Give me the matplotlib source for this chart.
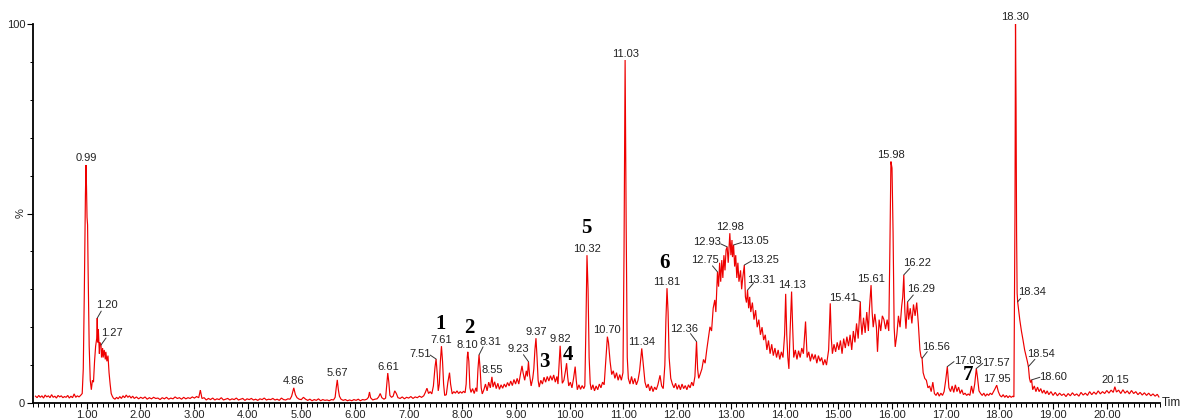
import matplotlib
matplotlib.use("Agg")
import matplotlib.pyplot as plt
from matplotlib.ticker import MultipleLocator, FixedLocator

# ---- chromatogram trace: retention time (min) and relative intensity (%) ----
rt_early = [0.05, 0.08, 0.11, 0.14, 0.17, 0.20, 0.23, 0.26, 0.29, 0.32, 0.35, 0.38, 0.41, 0.44,
            0.47, 0.50, 0.53, 0.56, 0.59, 0.62, 0.65, 0.68, 0.71, 0.74, 0.77, 0.80, 0.83, 0.86,
            0.89, 0.92, 0.94, 0.96, 0.98, 0.99, 1.00, 1.01, 1.02, 1.03, 1.05, 1.07, 1.09, 1.11,
            1.13, 1.15, 1.17, 1.19, 1.20, 1.21, 1.22, 1.24, 1.25, 1.27, 1.28, 1.30, 1.31, 1.33,
            1.35, 1.36, 1.38, 1.40, 1.42, 1.44, 1.46, 1.48, 1.50]
sig_early = [1.8, 1.4, 2.0, 1.5, 1.9, 1.3, 2.1, 1.6, 1.9, 1.4, 2.2, 1.5, 1.8, 1.3,
             2.0, 1.6, 1.9, 1.4, 1.7, 1.5, 2.0, 1.3, 1.8, 1.4, 2.4, 1.5, 1.9, 1.6,
             2.0, 2.5, 9.0, 30.0, 55.0, 62.8, 57.0, 49.0, 47.0, 35.0, 15.0, 6.0, 3.5, 6.0,
             5.5, 11.0, 15.0, 17.0, 22.4, 16.0, 19.5, 13.0, 16.0, 15.3, 12.0, 14.5, 12.0, 14.0,
             11.5, 13.5, 11.0, 12.5, 8.0, 5.0, 2.5, 1.8, 1.3]

rt_flat = [1.53, 1.56, 1.59, 1.62, 1.65, 1.68, 1.71, 1.74, 1.77, 1.80, 1.83, 1.86, 1.89, 1.93,
           1.97, 2.01, 2.05, 2.09, 2.13, 2.17, 2.21, 2.25, 2.29, 2.33, 2.37, 2.41, 2.45, 2.49,
           2.53, 2.57, 2.61, 2.65, 2.69, 2.73, 2.77, 2.81, 2.85, 2.89, 2.93, 2.97, 3.01, 3.05,
           3.09, 3.12, 3.15, 3.19, 3.23, 3.27, 3.31, 3.35, 3.39, 3.43, 3.47, 3.51, 3.55, 3.59,
           3.63, 3.67, 3.71, 3.75, 3.79, 3.83, 3.87, 3.91, 3.95, 3.99, 4.03, 4.07, 4.11, 4.15,
           4.19, 4.23, 4.27, 4.31, 4.35, 4.39, 4.43, 4.47, 4.51, 4.55, 4.59, 4.63, 4.67, 4.71,
           4.75, 4.79, 4.82, 4.86, 4.89, 4.92, 4.96]
sig_flat = [1.0, 1.5, 1.1, 1.7, 1.2, 1.9, 1.4, 2.1, 1.5, 1.9, 1.3, 1.8, 1.2, 1.6,
            1.1, 1.5, 1.2, 1.6, 1.0, 1.4, 1.1, 1.5, 1.2, 1.3, 0.9, 1.4, 1.1, 1.5,
            1.0, 1.3, 1.1, 1.6, 1.2, 1.4, 1.0, 1.5, 1.1, 1.4, 1.2, 1.6, 1.3, 1.7,
            1.4, 3.4, 1.2, 1.4, 0.8, 1.2, 0.9, 1.3, 0.8, 1.1, 0.9, 1.4, 0.8, 1.0,
            1.2, 0.8, 1.1, 0.9, 1.3, 0.8, 1.0, 1.2, 0.7, 1.1, 0.9, 1.2, 0.8, 1.0,
            0.7, 1.1, 0.9, 1.3, 0.8, 1.0, 0.9, 1.2, 0.8, 1.0, 0.7, 1.3, 0.9, 0.8,
            1.1, 1.0, 1.8, 4.0, 2.2, 1.4, 1.0]

rt_mid = [5.00, 5.04, 5.08, 5.12, 5.16, 5.20, 5.24, 5.28, 5.32, 5.36, 5.40, 5.44, 5.48, 5.52,
          5.56, 5.60, 5.63, 5.65, 5.67, 5.69, 5.71, 5.74, 5.78, 5.82, 5.86, 5.90, 5.94, 5.98,
          6.02, 6.06, 6.10, 6.14, 6.18, 6.22, 6.25, 6.27, 6.29, 6.33, 6.37, 6.41, 6.44, 6.47,
          6.50, 6.54, 6.57, 6.59, 6.61, 6.63, 6.65, 6.68, 6.71, 6.74, 6.77, 6.80, 6.84, 6.88,
          6.92, 6.96, 7.00, 7.04, 7.08, 7.12, 7.16, 7.20, 7.24, 7.28, 7.31, 7.34, 7.37, 7.40,
          7.43, 7.46, 7.49, 7.51, 7.53, 7.55, 7.57, 7.59, 7.61, 7.63, 7.65, 7.67, 7.70, 7.73,
          7.76, 7.78, 7.81, 7.84, 7.87, 7.90, 7.93, 7.96, 7.99, 8.02, 8.05, 8.07, 8.09, 8.10,
          8.12, 8.14, 8.16, 8.19, 8.22, 8.25, 8.27, 8.29, 8.31, 8.33, 8.35, 8.37, 8.40, 8.43,
          8.46, 8.49, 8.52, 8.55, 8.57, 8.60, 8.63, 8.66, 8.69, 8.72, 8.75, 8.78, 8.81, 8.84,
          8.87, 8.90, 8.93, 8.96, 8.99, 9.02, 9.05, 9.08, 9.11, 9.13, 9.16, 9.19, 9.21, 9.23,
          9.25, 9.28, 9.31, 9.33, 9.35, 9.37, 9.39, 9.41, 9.43, 9.46, 9.49, 9.52, 9.55, 9.58,
          9.61, 9.64, 9.67, 9.70, 9.73, 9.76, 9.78, 9.80, 9.82, 9.84, 9.86, 9.89, 9.92, 9.94,
          9.96, 9.98]
sig_mid = [0.9, 1.5, 1.0, 0.7, 1.0, 0.6, 0.9, 0.7, 1.1, 0.6, 0.9, 0.7, 0.8, 0.6,
           0.9, 0.8, 1.5, 4.0, 6.1, 3.5, 1.8, 1.0, 0.7, 0.9, 0.6, 0.8, 0.6, 0.9,
           0.7, 1.0, 0.6, 0.9, 0.8, 1.0, 1.5, 2.9, 1.4, 0.8, 1.0, 1.1, 1.6, 2.5,
           1.4, 1.0, 1.3, 4.5, 7.9, 5.5, 2.0, 1.5, 1.8, 3.2, 2.5, 1.4, 1.2, 1.6,
           1.1, 1.5, 1.3, 1.7, 1.2, 1.6, 1.4, 1.8, 1.5, 1.9, 2.8, 3.9, 2.5, 3.0,
           2.4, 4.5, 9.5, 11.6, 8.0, 3.2, 5.0, 11.0, 15.0, 11.0, 5.0, 2.0, 2.2, 5.5,
           8.0, 5.0, 2.4, 3.0, 2.6, 3.2, 2.5, 3.0, 2.6, 3.1, 2.7, 5.0, 12.0, 13.5,
           11.0, 4.0, 2.8, 3.8, 2.5, 4.0, 3.0, 9.0, 12.7, 9.0, 4.0, 2.4, 3.5, 5.0,
           3.2, 5.5, 4.0, 6.9, 4.2, 5.6, 3.8, 5.2, 3.6, 4.8, 3.9, 5.0, 4.2, 5.4,
           4.5, 5.8, 4.6, 6.2, 5.0, 6.5, 5.0, 7.5, 9.8, 8.0, 6.0, 8.5, 7.0, 10.9,
           7.5, 4.5, 6.5, 9.0, 14.0, 17.1, 12.0, 6.0, 4.2, 6.0, 5.0, 6.8, 5.5, 7.0,
           5.8, 7.2, 6.0, 7.4, 5.5, 7.0, 5.0, 10.0, 15.1, 10.0, 5.2, 6.0, 8.5, 10.5,
           7.0, 4.5]

rt_main = [10.01, 10.04, 10.07, 10.10, 10.12, 10.14, 10.17, 10.20, 10.23, 10.26, 10.28, 10.30,
           10.32, 10.34, 10.36, 10.38, 10.40, 10.43, 10.46, 10.49, 10.52, 10.55, 10.58, 10.61,
           10.64, 10.67, 10.70, 10.72, 10.75, 10.78, 10.81, 10.84, 10.87, 10.90, 10.93, 10.96,
           10.99, 11.01, 11.03, 11.05, 11.07, 11.09, 11.12, 11.15, 11.18, 11.21, 11.24, 11.27,
           11.30, 11.34, 11.37, 11.40, 11.43, 11.46, 11.49, 11.52, 11.55, 11.58, 11.61, 11.64,
           11.68, 11.71, 11.74, 11.77, 11.79, 11.81, 11.83, 11.85, 11.88, 11.91, 11.94, 11.97,
           12.00, 12.03, 12.06, 12.09, 12.12, 12.15, 12.18, 12.21, 12.24, 12.27, 12.30, 12.33,
           12.36, 12.38, 12.40, 12.43, 12.46, 12.49, 12.52, 12.55, 12.58, 12.61, 12.64, 12.67,
           12.70, 12.72, 12.75, 12.77, 12.79, 12.81, 12.83, 12.85, 12.87, 12.89, 12.91, 12.93,
           12.95, 12.97, 12.98, 13.00, 13.02, 13.03, 13.05, 13.07, 13.09, 13.11, 13.13, 13.15,
           13.18, 13.20, 13.22, 13.25, 13.27, 13.29, 13.31, 13.33, 13.35, 13.37, 13.40, 13.43,
           13.46, 13.49, 13.52, 13.55, 13.58, 13.61, 13.64, 13.67, 13.70, 13.73, 13.76, 13.79,
           13.82, 13.85, 13.88, 13.91, 13.94, 13.97]
sig_main = [5.5, 4.0, 6.5, 9.6, 6.0, 3.5, 4.8, 3.6, 4.6, 3.8, 4.5, 20.0,
            39.0, 30.0, 12.0, 5.2, 3.5, 4.8, 3.2, 4.5, 3.5, 5.0, 4.0, 5.5,
            4.8, 11.0, 17.5, 16.0, 11.0, 7.5, 8.5, 6.5, 8.0, 6.0, 7.5, 6.0,
            8.0, 40.0, 90.5, 46.5, 12.0, 6.5, 5.0, 7.0, 5.0, 6.5, 4.8, 6.0,
            8.5, 14.4, 10.0, 5.5, 4.0, 5.0, 3.2, 4.5, 3.0, 4.2, 3.5, 4.8,
            7.3, 4.5, 3.8, 10.0, 22.0, 30.3, 24.0, 12.0, 6.5, 5.0, 4.0, 5.2,
            3.6, 4.8, 3.5, 5.0, 3.8, 4.6, 3.5, 4.8, 4.0, 5.5, 4.5, 7.0,
            16.2, 9.0, 6.5, 7.7, 9.0, 11.5, 10.5, 14.0, 17.0, 20.1, 19.0, 25.0,
            27.2, 24.0, 34.6, 30.7, 37.0, 32.0, 37.7, 33.0, 39.0, 35.0, 40.4, 41.2,
            37.0, 42.0, 44.8, 39.0, 43.0, 38.5, 41.7, 36.0, 39.0, 33.0, 37.0, 32.0,
            35.0, 30.0, 33.0, 36.4, 28.0, 26.5, 29.8, 25.0, 28.0, 24.0, 26.5, 22.0,
            24.5, 20.0, 22.0, 18.0, 20.0, 16.6, 18.0, 14.0, 16.5, 13.0, 15.5, 12.5,
            14.5, 12.0, 14.0, 11.5, 13.5, 12.0]

rt_late = [14.00, 14.02, 14.04, 14.06, 14.08, 14.10, 14.13, 14.15, 14.17, 14.20, 14.23, 14.26,
           14.29, 14.32, 14.35, 14.39, 14.42, 14.45, 14.48, 14.51, 14.54, 14.57, 14.60, 14.63,
           14.66, 14.69, 14.72, 14.75, 14.78, 14.82, 14.85, 14.87, 14.89, 14.92, 14.95, 14.98,
           15.01, 15.04, 15.07, 15.10, 15.13, 15.16, 15.19, 15.22, 15.25, 15.28, 15.31, 15.34,
           15.37, 15.41, 15.42, 15.44, 15.47, 15.50, 15.53, 15.56, 15.58, 15.61, 15.63, 15.65,
           15.68, 15.71, 15.73, 15.76, 15.79, 15.82, 15.85, 15.88, 15.91, 15.94, 15.96, 15.98,
           16.00, 16.02, 16.04, 16.06, 16.09, 16.12, 16.15, 16.18, 16.20, 16.22, 16.24, 16.26,
           16.29, 16.31, 16.34, 16.37, 16.40, 16.43, 16.46, 16.49, 16.52, 16.54, 16.56, 16.58,
           16.61, 16.64, 16.67, 16.70, 16.73, 16.76, 16.79, 16.82, 16.85, 16.88, 16.91, 16.94,
           16.97, 17.00, 17.03, 17.06, 17.09, 17.12, 17.15, 17.18, 17.21, 17.24, 17.27, 17.30,
           17.33, 17.36, 17.39, 17.42, 17.45, 17.48, 17.51, 17.54, 17.57, 17.59, 17.62, 17.65,
           17.68, 17.71, 17.74, 17.77, 17.80, 17.83, 17.86, 17.89, 17.92, 17.95, 17.98, 18.01,
           18.04, 18.07, 18.10, 18.13, 18.16, 18.19, 18.22, 18.25, 18.27]
sig_late = [18.0, 28.8, 18.0, 12.0, 9.0, 18.0, 29.4, 20.0, 12.0, 14.0, 11.5, 13.8,
            12.0, 14.5, 13.0, 21.5, 12.0, 13.5, 11.0, 13.0, 11.5, 12.8, 10.5, 12.5,
            11.0, 12.0, 10.0, 11.5, 10.0, 14.0, 26.3, 17.0, 13.0, 15.5, 13.5, 16.0,
            14.0, 16.5, 13.0, 17.0, 14.5, 17.5, 15.0, 18.0, 14.0, 19.0, 16.0, 21.0,
            17.0, 26.7, 21.7, 18.0, 22.5, 18.5, 24.0, 19.0, 25.0, 31.1, 24.0, 20.0,
            23.5, 20.0, 13.5, 22.0, 19.0, 23.0, 22.0, 19.5, 22.0, 19.0, 40.0, 63.7,
            62.0, 45.0, 20.0, 14.8, 18.0, 23.0, 20.0, 25.5, 28.0, 33.8, 24.0, 19.6,
            26.7, 22.0, 25.0, 21.0, 26.0, 23.0, 26.5, 21.0, 14.0, 12.2, 11.8, 8.0,
            6.5, 6.0, 4.0, 4.5, 3.0, 5.5, 2.5, 2.0, 2.8, 1.8, 2.6, 2.0,
            3.0, 6.0, 9.6, 4.0, 3.0, 4.5, 2.8, 4.8, 3.0, 4.2, 2.5, 3.5,
            2.2, 2.6, 2.0, 2.4, 2.0, 4.5, 2.5, 5.0, 9.1, 7.0, 3.2, 2.5,
            2.0, 2.6, 1.8, 2.4, 2.0, 2.6, 2.2, 3.0, 3.8, 4.7, 3.0, 2.0,
            1.6, 2.2, 1.5, 2.0, 1.4, 1.9, 1.5, 1.8, 1.6]

rt_tail = [18.29, 18.30, 18.31, 18.32, 18.33, 18.34, 18.38, 18.41, 18.44, 18.47, 18.50, 18.52,
           18.54, 18.56, 18.58, 18.60, 18.62, 18.65, 18.68, 18.71, 18.74, 18.77, 18.80, 18.83,
           18.86, 18.89, 18.92, 18.96, 19.00, 19.04, 19.08, 19.12, 19.16, 19.20, 19.24, 19.28,
           19.32, 19.36, 19.40, 19.44, 19.48, 19.52, 19.56, 19.60, 19.64, 19.68, 19.72, 19.76,
           19.80, 19.84, 19.88, 19.92, 19.96, 20.00, 20.04, 20.08, 20.12, 20.15, 20.18, 20.22,
           20.26, 20.30, 20.34, 20.38, 20.42, 20.46, 20.50, 20.54, 20.58, 20.62, 20.66, 20.70,
           20.74, 20.78, 20.82, 20.86, 20.90, 20.94, 20.97]
sig_tail = [50.0, 100.0, 78.6, 45.0, 29.0, 26.7, 21.9, 19.0, 16.6, 14.0, 12.2, 11.0,
            9.6, 6.5, 5.4, 6.1, 3.5, 4.5, 3.0, 4.2, 3.0, 3.8, 2.6, 3.4,
            2.4, 3.2, 2.2, 3.0, 2.0, 2.8, 1.9, 2.6, 2.0, 2.4, 1.7, 2.5,
            1.9, 2.7, 2.0, 2.4, 1.8, 2.8, 2.1, 2.6, 2.0, 3.0, 2.2, 2.9,
            2.3, 3.2, 2.4, 3.0, 2.5, 3.3, 2.6, 3.4, 2.8, 4.3, 2.9, 3.4,
            2.5, 3.5, 2.6, 3.2, 2.4, 3.3, 2.5, 3.0, 2.2, 2.8, 2.1, 2.7,
            2.0, 2.6, 1.9, 2.4, 1.8, 2.3, 1.6]

# ---- annotated peaks (retention times printed above the trace) ----
peak_rt = [0.99, 1.20, 1.27, 4.86, 5.67, 6.61, 7.51, 7.61, 8.10, 8.31, 8.55, 9.23, 9.37,
           9.82, 10.32, 10.70, 11.03, 11.34, 11.81, 12.36, 12.75, 12.93, 12.98, 13.05,
           13.25, 13.31, 14.13, 15.41, 15.61, 15.98, 16.22, 16.29, 16.56, 17.03, 17.57,
           17.95, 18.30, 18.34, 18.54, 18.60, 20.15]

# ---- compound numbers ----
compound_ids = ["1", "2", "3", "4", "5", "6", "7"]

# axis tick labels
x_major = list(range(1, 21))
x_major_labels = [f"{v:.2f}" for v in x_major]
y_ticks = [0, 50, 100]
y_tick_labels = ["0", "%", "100"]

# ----------------------------------------------------------------------------
rt = rt_early + rt_flat + rt_mid + rt_main + rt_late + rt_tail
sig = sig_early + sig_flat + sig_mid + sig_main + sig_late + sig_tail

TRACE = "#ee0000"
INK = "#222222"
SANS = ["Liberation Sans", "DejaVu Sans"]
LABEL_FS = 8

fig = plt.figure(figsize=(11.84, 4.2), dpi=100)
W, H = 1184, 420
x0_px, x1_px = 32.8, 32.8 + 21 * 53.7
ax = fig.add_axes([x0_px / W, (H - 403) / H, (x1_px - x0_px) / W, 379 / H])
ax.plot(rt, sig, color=TRACE, lw=0.85, solid_joinstyle="miter")
ax.set_xlim(0, 21)
ax.set_ylim(0, 100)

for side in ("top", "right"):
    ax.spines[side].set_visible(False)
for side in ("left", "bottom"):
    ax.spines[side].set_linewidth(1.3)
    ax.spines[side].set_color("black")

ax.xaxis.set_major_locator(FixedLocator(x_major))
ax.set_xticklabels(x_major_labels, fontsize=LABEL_FS, family=SANS, color=INK)
ax.xaxis.set_minor_locator(MultipleLocator(0.1))
ax.tick_params(axis="x", which="major", length=4.5, width=0.8, pad=0.5)
ax.tick_params(axis="x", which="minor", length=3, width=0.7)

ax.yaxis.set_major_locator(FixedLocator(y_ticks))
ax.set_yticklabels(y_tick_labels, fontsize=LABEL_FS, family=SANS, color=INK)
ax.yaxis.set_minor_locator(MultipleLocator(10))
ax.tick_params(axis="y", which="major", length=4, width=0.8, pad=1.5)
ax.tick_params(axis="y", which="minor", length=2.5, width=0.7)
pct = ax.get_yticklabels()[1]
pct.set_rotation(90)
pct.set_va("center")

fig.text(1162 / W, (H - 403) / H, "Tim", fontsize=8.5, family=SANS, color=INK,
         ha="left", va="center")

# label placement (pixel offsets from the peak apex); leader lines where given
label_offsets = {
    "1.20": ((10, 13), (4, 7)), "1.27": ((11, 12), (5, 7)),
    "7.51": ((-16, 5), (-6, 4)), "8.31": ((11, 12.5), (4, 8)),
    "9.23": ((-10, 13), (-5, 7)), "12.36": ((-12.5, 13), (-6, 8)),
    "12.75": ((-13, 12), (-5, 6)), "12.93": ((-20, 4.5), (-6.5, 3)),
    "13.05": ((21.5, 3.5), (8, 2.5)), "13.25": ((21, 5.5), (7.5, 4.3)),
    "13.31": ((14, 10.5), (5.8, 6.7)), "15.41": ((-17.5, 4.3), (-6.3, 2.5)),
    "16.22": ((13.5, 12), (6, 6.5)), "16.29": ((13, 12.5), (5.7, 6.8)),
    "16.56": ((14, 11), (5.2, 6.6)), "17.03": ((21, 6), (6.7, 5)),
    "17.57": ((19.5, 6), (6.4, 5.2)), "18.34": ((14, 10), (3, 3.5)),
    "18.54": ((13, 12.5), (6.5, 7.3)), "18.60": ((21, 3.2), (8.3, 2.6)),
}
for t in peak_rt:
    text = f"{t:.2f}"
    v = sig[rt.index(t)]
    (dx, dy), lead = label_offsets.get(text, ((0, 6.5), None))
    ax.annotate(text, xy=(t, v), xytext=(dx, dy), textcoords="offset pixels",
                ha="center", va="center", fontsize=LABEL_FS, family=SANS, color=INK,
                annotation_clip=False)
    if lead is not None:
        ax.annotate("", xy=(t, v), xytext=lead, textcoords="offset pixels",
                    arrowprops=dict(arrowstyle="-", color="#333333", lw=0.7,
                                    shrinkA=0, shrinkB=0))

# compound numbers (bold serif), placed in data coordinates
compound_pos = [(7.59, 20.8), (8.12, 19.7), (9.52, 10.7), (9.97, 12.6),
                (10.30, 46.1), (11.77, 36.9), (17.41, 7.4)]
for cid, (t, v) in zip(compound_ids, compound_pos):
    ax.text(t, v, cid, fontsize=15, fontweight="bold",
            family=["Liberation Serif", "DejaVu Serif"],
            ha="center", va="center", color="black")

fig.savefig("out.png", dpi=100)
